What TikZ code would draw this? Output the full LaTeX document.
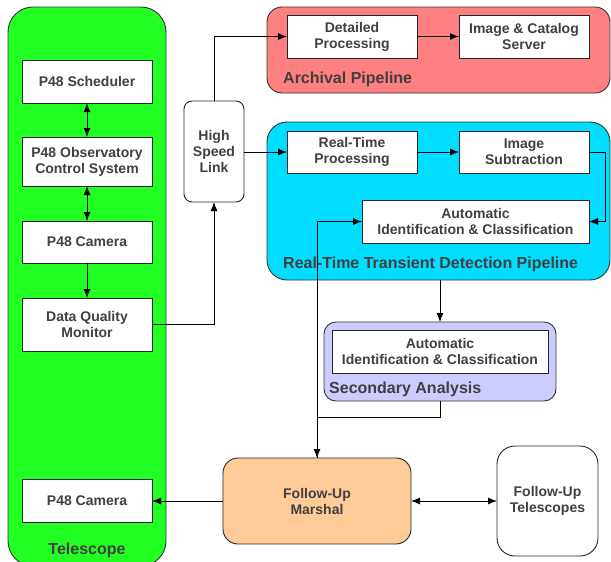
\documentclass[tikz,border=0pt]{standalone}
\usepackage{fontspec}
\setmainfont{Liberation Sans}
\usetikzlibrary{arrows.meta}
\definecolor{txt}{HTML}{404040}
\definecolor{telgreen}{HTML}{22FF22}
\definecolor{archred}{HTML}{FF8080}
\definecolor{rtcyan}{HTML}{00DDFF}
\definecolor{seclav}{HTML}{CCCCFF}
\definecolor{fumorange}{HTML}{FFCC99}
\begin{document}
\begin{tikzpicture}[x=1pt,y=-1pt,
  box/.style={draw=black!85, fill=white, line width=0.9pt, inner sep=0pt, outer sep=0pt,
    align=center, text=txt, font=\fontsize{14}{16}\selectfont\bfseries},
  grp/.style={draw=black!80, line width=0.9pt, inner sep=0pt, outer sep=0pt},
  lbl/.style={text=txt, font=\fontsize{16}{18}\selectfont\bfseries, inner sep=0pt},
  arr/.style={-{Latex[length=9pt,width=7pt]}, line width=0.9pt},
  darr/.style={{Latex[length=9pt,width=7pt]}-{Latex[length=9pt,width=7pt]}, line width=0.9pt},
  plain/.style={line width=0.9pt}
]
\useasboundingbox (0,0) rectangle (611,562);

% groups
\node[grp, fill=telgreen, rounded corners=25pt, minimum width=158pt, minimum height=559pt] (tel) at (87,286.5) {};
\node[grp, fill=archred, rounded corners=15pt, minimum width=343pt, minimum height=86pt] (arch) at (438.5,50) {};
\node[grp, fill=rtcyan, rounded corners=20pt, minimum width=343pt, minimum height=158pt] (rtg) at (438.5,201) {};
\node[grp, fill=seclav, rounded corners=12pt, minimum width=232pt, minimum height=79pt] (sec) at (440,361.5) {};

% group labels
\node[lbl] (tellbl) at (87,550) {Telescope};
\node[lbl, anchor=west] (archlbl) at (283,79) {Archival Pipeline};
\node[lbl, anchor=west] (rtlbl) at (283,264) {Real-Time Transient Detection Pipeline};
\node[lbl, anchor=west] (seclbl) at (329,389) {Secondary Analysis};

% boxes
\node[box, minimum width=130pt, minimum height=43pt] (sched) at (87,81.5) {P48 Scheduler};
\node[box, minimum width=130pt, minimum height=49pt] (ocs) at (87,161.5) {P48 Observatory\\Control System};
\node[box, minimum width=130pt, minimum height=42pt] (cam1) at (87,242) {P48 Camera};
\node[box, minimum width=130pt, minimum height=53pt] (dqm) at (87,324.5) {Data Quality\\Monitor};
\node[box, minimum width=130pt, minimum height=43pt] (cam2) at (87,500.5) {P48 Camera};
\node[box, rounded corners=8pt, minimum width=60pt, minimum height=101pt] (hsl) at (214,151.5) {High\\Speed\\Link};
\node[box, minimum width=130pt, minimum height=43pt] (detp) at (352,36.5) {Detailed\\Processing};
\node[box, minimum width=130pt, minimum height=43pt] (icat) at (524,36.5) {Image \& Catalog\\Server};
\node[box, minimum width=130pt, minimum height=42pt] (rtp) at (352,152) {Real-Time\\Processing};
\node[box, minimum width=130pt, minimum height=42pt] (isub) at (524,152) {Image\\Subtraction};
\node[box, minimum width=227pt, minimum height=43pt] (aic1) at (475.5,221.5) {Automatic\\Identification \& Classification};
\node[box, minimum width=216pt, minimum height=43pt] (aic2) at (440,351.5) {Automatic\\Identification \& Classification};
\node[box, fill=fumorange, rounded corners=15pt, minimum width=188pt, minimum height=86pt] (fum) at (317,501) {Follow-Up\\Marshal};
\node[box, rounded corners=18pt, minimum width=101pt, minimum height=110pt] (fut) at (547.5,501) {Follow-Up\\Telescopes};

% connectors
\draw[darr] (sched) -- (ocs);
\draw[darr] (ocs) -- (cam1);
\draw[arr] (cam1) -- (dqm);
\draw[arr] (dqm.east) -| (hsl.south);
\draw[arr] (hsl.north) |- (detp.west);
\draw[arr] (hsl.east |- rtp.west) -- (rtp.west);
\draw[arr] (detp) -- (icat);
\draw[arr] (rtp) -- (isub);
\draw[arr] (isub.east) -- ++(16,0) |- (aic1.east);
\draw[arr] (sec.north |- rtg.south) -- (sec.north);
\draw[arr] (sec.south) -- ++(0,16) -| (fum.north);
\draw[arr] (fum.north) |- (aic1.west);
\draw[arr] (fum.west) -- (cam2.east |- fum.west);
\draw[darr] (fum.east) -- (fut.west);
\end{tikzpicture}
\end{document}
